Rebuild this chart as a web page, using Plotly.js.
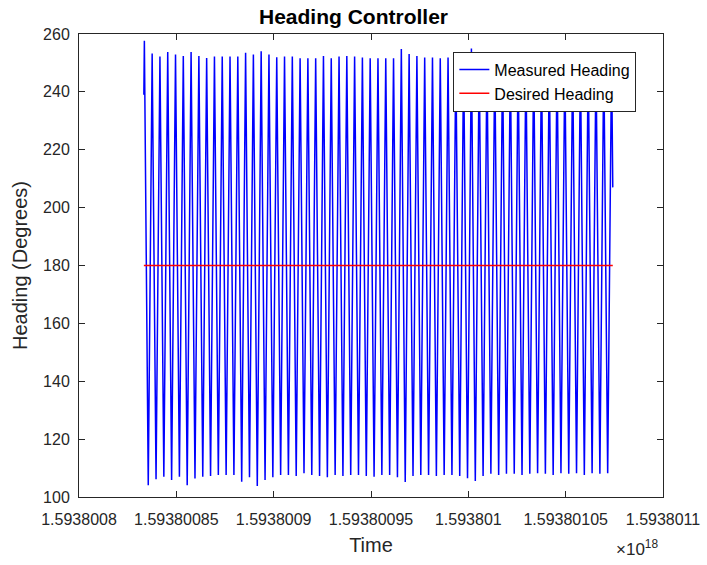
<!DOCTYPE html>
<html>
<head>
<meta charset="utf-8">
<script src="https://cdn.plot.ly/plotly-3.0.1.min.js"></script>
<style>html,body{margin:0;padding:0;background:#fff;} #chart{width:707px;height:565px;}</style>
</head>
<body>
<div id="chart"></div>
<script>
// Measured heading: successive peak and trough values (degrees)
const peakHeadings = [257.7,253.3,252.2,253.8,252.9,252.4,253.8,252.4,251.7,252.2,
  252.2,252.2,252.2,253.5,252.9,254.0,252.9,252.0,252.2,252.2,
  251.6,251.6,251.6,252.4,251.6,252.2,252.4,252.2,251.9,251.6,
  251.6,251.6,251.6,254.8,253.1,252.4,251.9,251.9,251.6,251.9,
  252.0,252.2,255.0,252.2,251.8,252.0,252.2,251.8,252.0,251.9,
  252.1,251.8,252.0,252.2,251.9,252.0,251.8,252.1,251.9,252.0,252.0];
const troughHeadings = [104.1,106.1,107.0,105.9,107.0,104.1,106.4,107.0,107.3,107.6,
  107.6,107.6,105.3,106.8,103.8,105.9,106.8,107.6,107.6,107.3,
  108.2,107.6,107.3,106.8,107.6,107.3,107.6,107.6,107.3,107.0,
  107.6,107.6,106.8,105.2,107.3,107.6,107.6,107.3,107.6,107.6,
  107.3,106.5,105.5,107.3,108.0,107.6,108.0,108.0,107.6,108.0,
  108.2,108.0,107.6,108.2,108.0,108.2,107.6,108.2,108.0,108.2];
const firstHeading = 239;
const lastHeading = 207;
// Logger timestamps (ns): first peak time and sample spacing
const firstPeakTimeNs = 1.59380083358e18;
const halfCycleNs = 2e9;
const startLeadNs = 0.26e9;
const endLagNs = 0.62e9;
// Desired heading
const desiredHeading = [180, 180];
// Tick labels
const xTickLabels = ['1.5938008','1.59380085','1.5938009','1.59380095','1.593801','1.59380105','1.5938011'];
const yTickVals = [100,120,140,160,180,200,220,240,260];

const mt = [], mh = [];
mt.push(firstPeakTimeNs - startLeadNs); mh.push(firstHeading);
for (let k = 0; k < peakHeadings.length; k++) {
  mt.push(firstPeakTimeNs + 2 * k * halfCycleNs); mh.push(peakHeadings[k]);
  if (k < troughHeadings.length) {
    mt.push(firstPeakTimeNs + (2 * k + 1) * halfCycleNs); mh.push(troughHeadings[k]);
  }
}
mt.push(mt[mt.length - 1] + endLagNs); mh.push(lastHeading);
const dt = [mt[0], mt[mt.length - 1]];

const font = 'Liberation Sans, Arial, Helvetica, sans-serif';
const axisColor = '#262626';
const traces = [
  {x: mt, y: mh, type: 'scatter', mode: 'lines', name: 'Measured Heading',
   line: {color: 'rgb(0,0,255)', width: 1.5}},
  {x: dt, y: desiredHeading, type: 'scatter', mode: 'lines', name: 'Desired Heading',
   line: {color: 'rgb(255,0,0)', width: 1.5}}
];
const layout = {
  width: 707, height: 565,
  margin: {l: 79, r: 44, t: 34, b: 68},
  paper_bgcolor: '#fff', plot_bgcolor: '#fff',
  font: {family: font, size: 16, color: axisColor},
  title: {text: '<b>Heading Controller</b>', font: {family: font, size: 21, color: '#000'},
          x: 0.5, xanchor: 'center', y: 0.97, yanchor: 'middle'},
  showlegend: true,
  legend: {x: 0.641, y: 0.962, xanchor: 'left', yanchor: 'top',
           bgcolor: '#fff', bordercolor: axisColor, borderwidth: 1,
           font: {family: font, size: 16, color: '#000'}, tracegroupgap: 0},
  xaxis: {
    range: [parseFloat(xTickLabels[0]) * 1e18, parseFloat(xTickLabels[xTickLabels.length - 1]) * 1e18],
    tickmode: 'array', tickvals: xTickLabels.map(s => parseFloat(s) * 1e18), ticktext: xTickLabels,
    ticks: 'inside', ticklen: 6, tickcolor: axisColor, tickwidth: 1,
    showline: true, linecolor: axisColor, linewidth: 1, mirror: 'ticks',
    showgrid: false, zeroline: false, ticklabelstandoff: 8,
    tickfont: {family: font, size: 16, color: axisColor},
    title: {text: 'Time', font: {family: font, size: 20, color: axisColor}, standoff: 10}
  },
  yaxis: {
    range: [100, 260], tickmode: 'array', tickvals: yTickVals,
    ticks: 'inside', ticklen: 6, tickcolor: axisColor, tickwidth: 1,
    showline: true, linecolor: axisColor, linewidth: 1, mirror: 'ticks',
    showgrid: false, zeroline: false, ticklabelstandoff: 5,
    tickfont: {family: font, size: 16, color: axisColor},
    title: {text: 'Heading (Degrees)', font: {family: font, size: 20, color: axisColor}, standoff: 10}
  },
  annotations: [{
    xref: 'paper', yref: 'paper', x: 0.995, y: -0.083, xanchor: 'right', yanchor: 'top',
    text: '\u00d710<sup>18</sup>', showarrow: false,
    font: {family: font, size: 17, color: axisColor}
  }]
};
Plotly.newPlot('chart', traces, layout, {displayModeBar: false, staticPlot: true});
</script>
</body>
</html>
